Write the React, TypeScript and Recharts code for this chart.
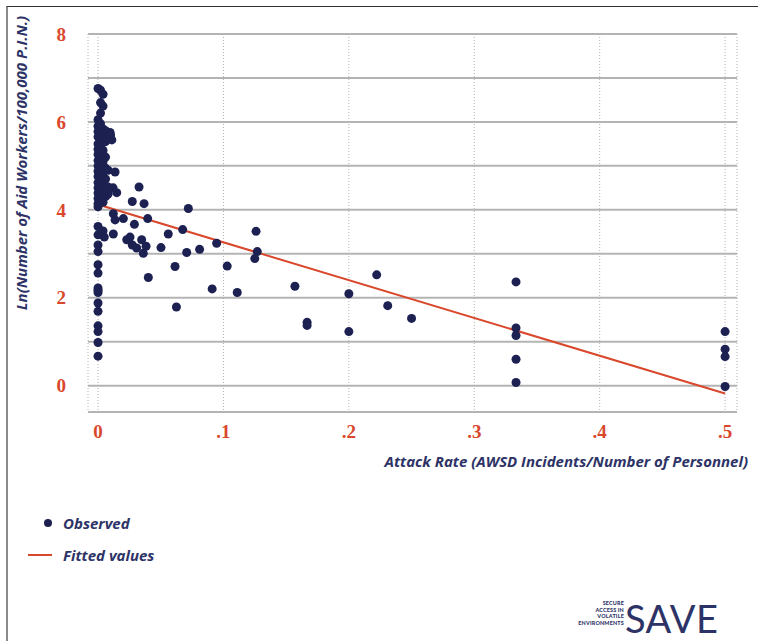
import React from 'react';
import { ComposedChart, Scatter, Line, XAxis, YAxis, CartesianGrid } from 'recharts';

// attack rate (x) and ln(aid workers / 100,000 PIN) (y)
const observedX = [
  // dense column at zero attack rate
  0, 0, 0, 0, 0, 0, 0, 0, 0, 0, 0, 0, 0, 0, 0, 0,
  0.002, 0.002, 0.002, 0.002, 0.002, 0.002, 0.002, 0.002, 0.002, 0.002, 0.002, 0.002, 0.002, 0.002, 0.002, 0.002, 0.002,
  0.004, 0.004, 0.004, 0.004, 0.004, 0.004, 0.004, 0.004, 0.004,
  0.006, 0.006, 0.006, 0.006, 0.006, 0.006, 0.006,
  0.008, 0.008, 0.008, 0.008, 0.008,
  0.0096, 0.011, 0.010, 0.0136, 0.0149, 0.012,
  // lower part of the zero column
  0, 0, 0, 0, 0, 0, 0, 0, 0, 0, 0, 0, 0, 0, 0, 0, 0,
  0.004, 0.005, 0.004,
  // small attack rates
  0.0122, 0.0136, 0.0202, 0.029, 0.0122, 0.0229, 0.0255, 0.0273, 0.0308, 0.0348,
  0.0361, 0.0383, 0.0396, 0.0401, 0.0273, 0.0367, 0.0327, 0.0502, 0.056, 0.0614,
  0.0625, 0.0675, 0.0707, 0.072, 0.081, 0.0946, 0.103, 0.091, 0.111,
  0.126, 0.127, 0.125, 0.157, 0.1667, 0.1667, 0.2, 0.2, 0.2222, 0.231, 0.25,
  0.3333, 0.3333, 0.3333, 0.3333, 0.3333,
  0.5, 0.5, 0.5, 0.5,
];
const observedY = [
  6.05, 5.9, 5.78, 5.66, 5.5, 5.38, 5.26, 5.12, 5.0, 4.88, 4.76, 4.62, 4.5, 4.38, 4.26, 4.14,
  6.72, 6.44, 6.2, 5.96, 5.72, 5.58, 5.44, 5.3, 5.18, 5.05, 4.94, 4.82, 4.7, 4.56, 4.44, 4.32, 4.2,
  6.63, 6.36, 5.84, 5.62, 5.35, 5.1, 4.85, 4.6, 4.4,
  5.8, 5.55, 5.2, 4.95, 4.7, 4.48, 4.3,
  5.75, 5.62, 4.9, 4.52, 4.36,
  5.76, 5.59, 5.7, 4.86, 4.39, 4.5,
  4.07, 3.62, 3.43, 3.2, 3.05, 2.75, 2.56, 2.22, 2.17, 2.12, 1.88, 1.69, 1.36, 1.23, 0.98, 0.67, 6.76,
  4.17, 3.38, 3.52,
  3.91, 3.77, 3.8, 3.67, 3.45, 3.32, 3.38, 3.2, 3.13, 3.32,
  3.01, 3.17, 3.8, 2.46, 4.19, 4.14, 4.52, 3.14, 3.45, 2.71,
  1.79, 3.55, 3.03, 4.03, 3.1, 3.24, 2.72, 2.2, 2.12,
  3.51, 3.05, 2.89, 2.26, 1.44, 1.37, 2.09, 1.23, 2.52, 1.82, 1.53,
  2.36, 1.31, 1.14, 0.6, 0.07,
  1.23, 0.83, 0.66, -0.02,
];

const fittedX = [0, 0.5];
const fittedY = [4.12, -0.18];

const xTicks = [0, 0.1, 0.2, 0.3, 0.4, 0.5];
const xTickLabels = ['0', '.1', '.2', '.3', '.4', '.5'];
const yTicks = [0, 1, 2, 3, 4, 5, 6, 7, 8];

const observed = observedX.map((x, i) => ({ x, y: observedY[i] }));
const fitted = fittedX.map((x, i) => ({ x, y: fittedY[i] }));

const NAVY = '#1c2152';
const TITLE = '#2d3366';
const RED = '#d9482c';

const tickStyle = { fill: RED, fontSize: 19, fontFamily: "'Liberation Serif', serif", fontWeight: 700 };
const titleFont = { fontFamily: "'Open Sans', sans-serif", fontStyle: 'italic' as const, fontWeight: 700, fontSize: 15 };

const Dot = (props: any) => <circle cx={props.cx} cy={props.cy} r={4.5} fill={NAVY} />;

export default function App() {
  return (
    <div style={{ position: 'absolute', left: 0, top: 0, width: 758, height: 641, background: '#fff', overflow: 'hidden' }}>
      <div
        style={{
          position: 'absolute', left: 6, top: 6, width: 752, height: 635, boxSizing: 'border-box',
          borderTop: '1.5px solid #333', borderLeft: '2px solid #8a8a8a',
        }}
      />
      <ComposedChart
        width={758}
        height={641}
        margin={{ top: 34, right: 21, left: 28, bottom: 189 }}
        style={{ position: 'absolute', left: 0, top: 0 }}
      >
        <CartesianGrid vertical={false} stroke="#b4b4b4" strokeWidth={2} />
        <CartesianGrid horizontal={false} stroke="#b0b0b0" strokeDasharray="1 2" />
        <XAxis
          type="number"
          dataKey="x"
          domain={[-0.008, 0.5095]}
          allowDataOverflow
          ticks={xTicks}
          interval={0}
          tickFormatter={(v: number) => xTickLabels[xTicks.indexOf(v)] ?? ''}
          axisLine={false}
          tickLine={false}
          tickSize={0}
          tickMargin={13}
          height={40}
          tick={tickStyle}
          label={{
            content: () => (
              <text x={748} y={467} textAnchor="end" fill={TITLE} {...titleFont}>
                Attack Rate (AWSD Incidents/Number of Personnel)
              </text>
            ),
          }}
        />
        <YAxis
          type="number"
          dataKey="y"
          domain={[-0.6, 8]}
          allowDataOverflow
          ticks={yTicks}
          interval={0}
          tickFormatter={(v: number) => (v % 2 === 0 ? String(v) : '')}
          axisLine={false}
          tickLine={false}
          tickSize={0}
          tickMargin={22}
          width={60}
          tick={tickStyle}
          label={{
            content: () => (
              <text x={27} y={163} transform="rotate(-90 27 163)" textAnchor="middle" fill={TITLE} {...titleFont}>
                Ln(Number of Aid Workers/100,000 P.I.N.)
              </text>
            ),
          }}
        />
        <Line
          data={fitted}
          dataKey="y"
          type="linear"
          stroke={RED}
          strokeWidth={2}
          dot={false}
          activeDot={false}
          isAnimationActive={false}
        />
        <Scatter data={observed} dataKey="y" fill={NAVY} shape={Dot} isAnimationActive={false} />
      </ComposedChart>

      <div style={{ position: 'absolute', left: 0, top: 512, ...titleFont, color: TITLE }}>
        <div style={{ position: 'absolute', left: 44, top: 7, width: 8, height: 8, borderRadius: 4, background: NAVY }} />
        <div style={{ position: 'absolute', left: 63, top: 0, whiteSpace: 'nowrap', lineHeight: '22px' }}>Observed</div>
        <div style={{ position: 'absolute', left: 28, top: 42, width: 24, height: 2, background: RED }} />
        <div style={{ position: 'absolute', left: 63, top: 32, whiteSpace: 'nowrap', lineHeight: '22px' }}>Fitted values</div>
      </div>

      <div style={{ position: 'absolute', left: 560, top: 600, width: 64, textAlign: 'right', fontFamily: "'Lato', sans-serif", fontWeight: 900, fontSize: 5.4, lineHeight: '6.6px', color: TITLE, letterSpacing: 0.2 }}>
        <div>SECURE</div>
        <div>ACCESS IN</div>
        <div>VOLATILE</div>
        <div>ENVIRONMENTS</div>
      </div>
      <div style={{ position: 'absolute', left: 625, top: 596, fontFamily: "'Lato', sans-serif", fontWeight: 400, fontSize: 38, lineHeight: '44px', color: TITLE, letterSpacing: 0.5 }}>
        SAVE
      </div>
    </div>
  );
}
